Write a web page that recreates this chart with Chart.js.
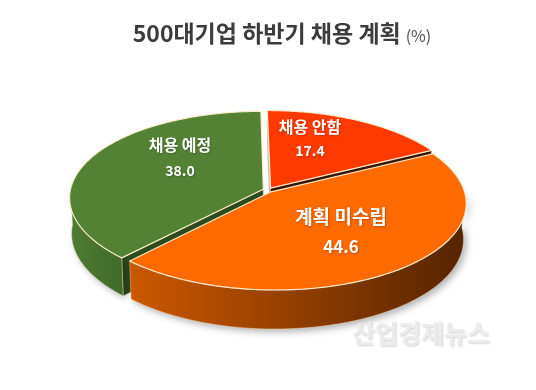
<!DOCTYPE html>
<html><head><meta charset="utf-8">
<script src="https://cdn.jsdelivr.net/npm/chart.js@4.4.1/dist/chart.umd.min.js"></script>
<style>html,body{margin:0;padding:0;background:#fff}#wrap{width:536px;height:390px;position:relative}</style>
</head><body><div id="wrap"><canvas id="c"></canvas></div>
<script>
const titleMain = '500대기업 하반기 채용 계획';
const titleUnit = '(%)';
const categories = ['채용 안함', '계획 미수립', '채용 예정'];
const values = [17.4, 44.6, 38.0];
const valueLabels = ['17.4', '44.6', '38.0'];
const watermark = '산업경제뉴스';

const topColors = ['#ff3a00', '#ff6a00', '#548235'];
const sideFrom = ['#c03000', '#cc5800', '#4f7c33'];
const sideTo = ['#7a1e00', '#552400', '#3f6a28'];
const wallStartColors = ['#b2b2ac', '#a84400', '#2c4a1a'];
const wallEndColors = ['#3a1400', '#a84400', '#9a9a94'];

const TILT = 26.7 * Math.PI / 180, DIST = 7.95, DEPTH = 0.21, CAMX = -0.15;

function makeProj(cx, cy, hx) {
  const s = Math.sin(TILT), c = Math.cos(TILT), F = hx * DIST;
  return (X, Z, Y) => {
    const d = DIST + Z * c - Y * s;
    const yc = Y * c + Z * s;
    return [cx + F * (X - CAMX) / d + F * CAMX / DIST, cy - F * yc / d];
  };
}
function area(pts) {
  let a = 0;
  for (let i = 0; i < pts.length; i++) {
    const p = pts[i], q = pts[(i + 1) % pts.length];
    a += p[0] * q[1] - q[0] * p[1];
  }
  return a;
}
function poly(ctx, pts) {
  ctx.beginPath();
  pts.forEach((p, i) => i ? ctx.lineTo(p[0], p[1]) : ctx.moveTo(p[0], p[1]));
  ctx.closePath();
}

const pie3d = {
  id: 'pie3d',
  beforeDatasetsDraw(chart) {
    const ctx = chart.ctx;
    const arcs = chart.getDatasetMeta(0).data;
    const c0 = arcs[0].getProps(['x', 'y', 'outerRadius'], true);
    const P = makeProj(c0.x, c0.y, c0.outerRadius);
    const sides = [], tops = [];
    arcs.forEach((arc, i) => {
      const g = arc.getProps(['startAngle', 'endAngle', 'outerRadius'], true);
      const a0 = g.startAngle, a1 = g.endAngle;
      const e = (arc.options.offset || 0) / g.outerRadius;
      const am = (a0 + a1) / 2;
      const ox = e * Math.cos(am), oz = -e * Math.sin(am);
      const rim = (a, Y) => P(ox + Math.cos(a), oz - Math.sin(a), Y);
      const apex = (Y) => P(ox, oz, Y);
      const arcPts = (a, b, Y) => {
        const n = Math.max(2, Math.ceil(Math.abs(b - a) / 0.015));
        const out = [];
        for (let k = 0; k <= n; k++) out.push(rim(a + (b - a) * k / n, Y));
        return out;
      };
      const H = -DEPTH;
      const w0 = [apex(0), rim(a0, 0), rim(a0, H), apex(H)];
      const w1 = [rim(a1, 0), apex(0), apex(H), rim(a1, H)];
      [[w0, a0, wallStartColors[i]], [w1, a1, wallEndColors[i]]].forEach(([w, a, col]) => {
        if (area(w) < 0) sides.push({z: oz - 0.5 * Math.sin(a), pts: w, fill: col});
      });
      for (let k = -1; k <= 1; k++) {
        const lo = Math.max(a0, 2 * Math.PI * k), hi = Math.min(a1, 2 * Math.PI * k + Math.PI);
        if (hi > lo) {
          const pts = arcPts(lo, hi, 0).concat(arcPts(hi, lo, H));
          const xs = pts.map(p => p[0]);
          sides.push({z: oz - Math.sin((lo + hi) / 2), pts, grad: [Math.min(...xs), Math.max(...xs), sideFrom[i], sideTo[i]], shadow: true});
        }
      }
      tops.push({z: oz, pts: [apex(0)].concat(arcPts(a0, a1, 0)), fill: topColors[i]});
    });
    ctx.save();
    sides.sort((a, b) => b.z - a.z).forEach(f => {
      poly(ctx, f.pts);
      if (f.grad) {
        const gr = ctx.createLinearGradient(f.grad[0], 0, f.grad[1], 0);
        gr.addColorStop(0, f.grad[2]); gr.addColorStop(1, f.grad[3]);
        ctx.fillStyle = gr;
      } else ctx.fillStyle = f.fill;
      if (f.shadow) {
        ctx.shadowColor = 'rgba(0,0,0,0.3)'; ctx.shadowBlur = 7; ctx.shadowOffsetX = 3; ctx.shadowOffsetY = 3;
      }
      ctx.fill();
      ctx.shadowColor = 'transparent'; ctx.shadowBlur = 0; ctx.shadowOffsetX = 0; ctx.shadowOffsetY = 0;
      ctx.strokeStyle = 'rgba(255,236,200,0.5)'; ctx.lineWidth = 0.8; ctx.stroke();
    });
    tops.sort((a, b) => b.z - a.z).forEach(f => {
      poly(ctx, f.pts);
      ctx.fillStyle = f.fill; ctx.fill();
      ctx.strokeStyle = 'rgba(255,238,205,0.95)'; ctx.lineWidth = 1.2; ctx.lineJoin = 'round'; ctx.stroke();
    });
    ctx.restore();
    return false;
  },
  afterDraw(chart) {
    const ctx = chart.ctx;
    const arcs = chart.getDatasetMeta(0).data;
    const cx = arcs[0].x, cy = arcs[0].y;
    ctx.save();
    ctx.textBaseline = 'middle';
    const fMain = 'bold 23px "Noto Sans CJK KR"', fUnit = '16px "Noto Sans CJK KR"';
    ctx.font = fMain;
    const w1 = ctx.measureText(titleMain).width;
    ctx.font = fUnit;
    const w2 = ctx.measureText(titleUnit).width;
    const gap = 5, total = w1 + gap + w2;
    const x = 282 - total / 2;
    ctx.textAlign = 'left';
    ctx.fillStyle = '#3c3c3c';
    ctx.font = fMain;
    ctx.fillText(titleMain, x, 33);
    ctx.font = fUnit;
    ctx.fillStyle = '#505050';
    ctx.fillText(titleUnit, x + w1 + gap, 36);
    const lab = [
      {dx: 42, dy: -63, f1: 16, f2: 14, sp: 24},
      {dx: 73, dy: 27, f1: 19, f2: 17, sp: 30},
      {dx: -88, dy: -45, f1: 16, f2: 14, sp: 26}
    ];
    ctx.textAlign = 'center';
    ctx.fillStyle = '#ffffff';
    ctx.shadowColor = 'rgba(0,0,0,0.25)'; ctx.shadowBlur = 2; ctx.shadowOffsetX = 1; ctx.shadowOffsetY = 1;
    categories.forEach((name, i) => {
      const L = lab[i];
      ctx.font = 'bold ' + L.f1 + 'px "Noto Sans CJK KR"';
      ctx.fillText(name, cx + L.dx, cy + L.dy);
      ctx.font = 'bold ' + L.f2 + 'px "Noto Sans CJK KR"';
      ctx.fillText(valueLabels[i], cx + L.dx, cy + L.dy + L.sp);
    });
    ctx.shadowColor = 'rgba(0,0,0,0.18)'; ctx.shadowBlur = 2; ctx.shadowOffsetX = 1; ctx.shadowOffsetY = 1;
    ctx.fillStyle = '#ececec';
    ctx.font = 'bold 25px "Noto Sans CJK KR"';
    ctx.fillText(watermark, 421, 333);
    ctx.restore();
  }
};

new Chart(document.getElementById('c'), {
  type: 'pie',
  data: {
    labels: categories,
    datasets: [{data: values, backgroundColor: topColors, borderWidth: 0, offset: 5, radius: 193}]
  },
  options: {
    responsive: true,
    maintainAspectRatio: false,
    animation: false,
    events: [],
    layout: {padding: {top: 0, bottom: 10, left: 0, right: 0}},
    plugins: {legend: {display: false}, tooltip: {enabled: false}, title: {display: false}}
  },
  plugins: [pie3d]
});
</script>
</body></html>
